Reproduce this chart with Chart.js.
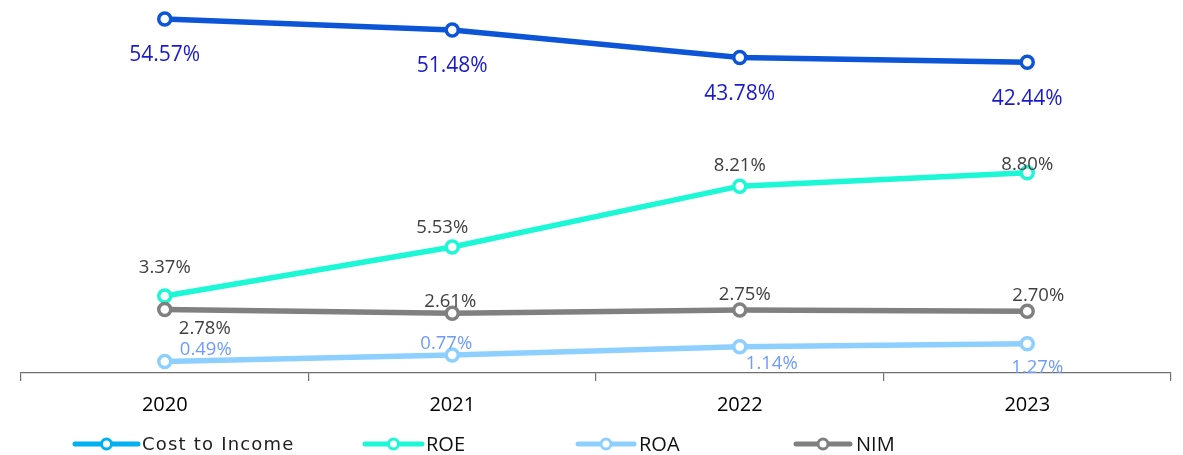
<!DOCTYPE html>
<html><head><meta charset="utf-8">
<script src="https://cdn.jsdelivr.net/npm/chart.js@4/dist/chart.umd.min.js"></script>
<style>html,body{margin:0;padding:0;background:#fff}#wrap{width:1183px;height:455px;position:relative}</style>
</head><body><div id="wrap"><canvas id="c" width="1183" height="455"></canvas></div>
<script>
// ---- data ----
const categories = ['2020', '2021', '2022', '2023'];
const seriesNames = ['Cost to Income', 'ROE', 'ROA', 'NIM'];
const costToIncome = [54.57, 51.48, 43.78, 42.44];
const roe = [3.37, 5.53, 8.21, 8.80];
const roa = [0.49, 0.77, 1.14, 1.27];
const nim = [2.78, 2.61, 2.75, 2.70];

// ---- styles ----
const lineColors = ['#0B55D6', '#1CF7D6', '#8DCFFF', '#808080'];
const legendColors = ['#00B0F0', '#1CF7D6', '#8DCFFF', '#808080'];
const labelStyles = [
  { color: '#1A1ACC', size: 21, offsets: [[0, 36], [0, 36], [0, 36.5], [0, 36.5]] },
  { color: '#404040', size: 18.5, offsets: [[0, -28], [-10, -19], [0, -20], [0, -8]] },
  { color: '#6E9BFF', size: 18.5, offsets: [[41, -12], [-6, -11], [32, 17], [10, 24.5]] },
  { color: '#404040', size: 18.5, offsets: [[40, 19], [-2, -12], [5, -15], [11, -16]] }
];
const legendLayout = [
  { x: 75, len: 63, textX: 142, font: '18px "DejaVu Sans"', spacing: '1.2px', color: '#1f1f1f' },
  { x: 365, len: 57, textX: 426, font: '20px "Open Sans"', spacing: '0px', color: '#111111' },
  { x: 578, len: 56, textX: 639, font: '20px "Open Sans"', spacing: '0px', color: '#111111' },
  { x: 796, len: 54, textX: 856, font: '20px "Open Sans"', spacing: '0px', color: '#111111' }
];
const LEGEND_Y = 444;

function ds(label, data, i, axis, order) {
  return {
    label, data, yAxisID: axis, order,
    borderColor: lineColors[i], borderWidth: 5.5,
    pointRadius: 6, pointBorderWidth: 3.5, pointBackgroundColor: '#ffffff',
    pointBorderColor: lineColors[i], pointHoverRadius: 6,
    tension: 0, fill: false
  };
}

const dataLabelPlugin = {
  id: 'dataLabels',
  afterDatasetsDraw(chart) {
    const ctx = chart.ctx, area = chart.chartArea;
    ctx.save();
    ctx.beginPath();
    ctx.rect(0, 0, chart.width, area.bottom);
    ctx.clip();
    chart.data.datasets.forEach((d, di) => {
      const meta = chart.getDatasetMeta(di);
      const st = labelStyles[di];
      ctx.fillStyle = st.color;
      ctx.font = st.size + 'px "Open Sans"';
      ctx.textAlign = 'center';
      ctx.textBaseline = 'middle';
      meta.data.forEach((pt, pi) => {
        const off = st.offsets[pi];
        ctx.fillText(d.data[pi].toFixed(2) + '%', pt.x + off[0], pt.y + off[1]);
      });
    });
    ctx.restore();
  }
};

const legendPlugin = {
  id: 'customLegend',
  afterDraw(chart) {
    const ctx = chart.ctx;
    ctx.save();
    chart.data.datasets.forEach((d, i) => {
      const L = legendLayout[i];
      ctx.strokeStyle = legendColors[i];
      ctx.lineWidth = 5;
      ctx.lineCap = 'round';
      ctx.beginPath();
      ctx.moveTo(L.x, LEGEND_Y);
      ctx.lineTo(L.x + L.len, LEGEND_Y);
      ctx.stroke();
      ctx.beginPath();
      ctx.arc(L.x + L.len / 2, LEGEND_Y, 5, 0, Math.PI * 2);
      ctx.fillStyle = '#ffffff';
      ctx.fill();
      ctx.lineWidth = 3;
      ctx.stroke();
      ctx.fillStyle = L.color;
      ctx.font = L.font;
      if ('letterSpacing' in ctx) ctx.letterSpacing = L.spacing;
      ctx.textAlign = 'left';
      ctx.textBaseline = 'middle';
      ctx.fillText(d.label, L.textX, LEGEND_Y + 1);
    });
    ctx.restore();
  }
};

new Chart(document.getElementById('c'), {
  type: 'line',
  data: {
    labels: categories,
    datasets: [
      ds(seriesNames[0], costToIncome, 0, 'y2', 4),
      ds(seriesNames[1], roe, 1, 'y', 3),
      ds(seriesNames[2], roa, 2, 'y', 2),
      ds(seriesNames[3], nim, 3, 'y', 1)
    ]
  },
  options: {
    responsive: false,
    animation: false,
    devicePixelRatio: 1,
    layout: { autoPadding: false, padding: { left: 21, right: 12, top: 5, bottom: 2 } },
    plugins: { legend: { display: false }, tooltip: { enabled: false } },
    scales: {
      x: {
        offset: true,
        grid: { offset: true, drawOnChartArea: false, drawTicks: true, tickLength: 8, color: '#6F6F6F', lineWidth: 1.2 },
        border: { display: true, color: '#6F6F6F', width: 1.2 },
        ticks: { color: '#000000', font: { family: 'Open Sans', size: 20 }, padding: 12, maxRotation: 0 },
        afterFit(scale) { scale.height = 80; }
      },
      y: { display: false, min: -0.02, max: 16.19 },
      y2: { display: false, min: -44.6, max: 58.5 }
    }
  },
  plugins: [dataLabelPlugin, legendPlugin]
});
</script>
</body></html>
